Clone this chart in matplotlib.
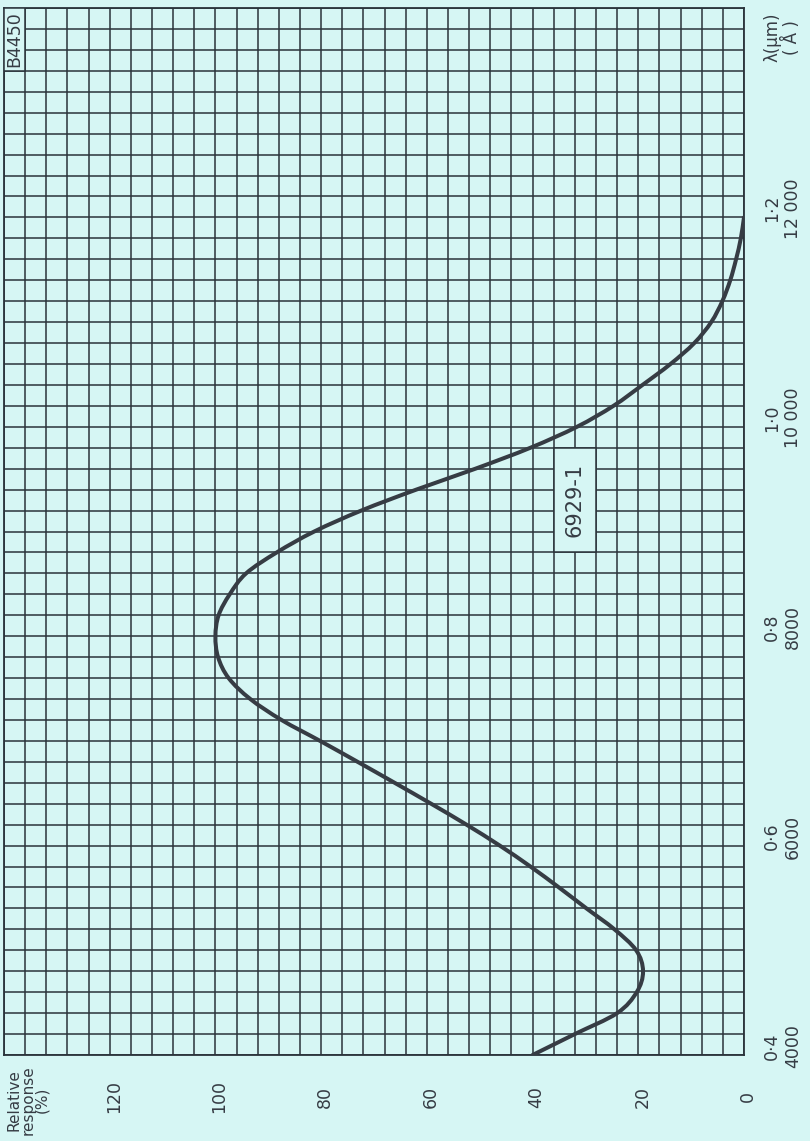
import numpy as np
import matplotlib
matplotlib.use("Agg")
import matplotlib.pyplot as plt
from matplotlib.patches import Rectangle, PathPatch
from matplotlib.path import Path
from matplotlib.transforms import blended_transform_factory, offset_copy

# ---- data ----
wavelength_um = [0.40, 0.42, 0.44, 0.46, 0.48, 0.50, 0.52, 0.54, 0.56, 0.58,
                 0.60, 0.62, 0.64, 0.66, 0.68, 0.70, 0.72, 0.74, 0.76, 0.78,
                 0.80, 0.82, 0.84, 0.86, 0.88, 0.90, 0.92, 0.94, 0.96, 0.98,
                 1.00, 1.02, 1.04, 1.06, 1.08, 1.10, 1.12, 1.14, 1.16, 1.18, 1.20]
response_pct = [40.0, 32.0, 24.0, 20.3, 19.1, 20.4, 24.5, 29.8, 35.0, 40.4,
                46.2, 52.5, 59.2, 66.1, 73.1, 80.2, 87.5, 93.4, 97.5, 99.5,
                100.0, 99.4, 97.3, 94.2, 88.4, 81.3, 72.4, 62.0, 50.8, 40.4,
                31.6, 24.7, 19.2, 13.9, 9.4, 6.2, 4.1, 2.6, 1.5, 0.6, 0.0]

resp_ticks = [0, 20, 40, 60, 80, 100, 120]
wl_ticks = [0.4, 0.6, 0.8, 1.0, 1.2]
wl_tick_labels = ["0·4\n4000", "0·6\n6000", "0·8\n8000", "1·0\n10 000", "1·2\n12 000"]
curve_name = "6929-1"
sheet_code = "B4450"

# ---- style ----
BG = "#d6f6f4"
GRID = "#2a333a"
INK = "#363c44"
W, H = 810, 1141

fig = plt.figure(figsize=(W / 100, H / 100), dpi=100, facecolor=BG)
ax = fig.add_axes([4 / W, 86 / H, 740 / W, 1047 / H], facecolor=BG)

ax.set_xlim(140, 0)
ax.set_ylim(0.40, 1.40)
ax.set_xticks(np.arange(0, 141, 4))
ax.set_yticks(np.round(np.arange(0.40, 1.4001, 0.02), 2))
ax.tick_params(length=0, labelbottom=False, labelleft=False)
ax.grid(True, color=GRID, lw=1.1)
ax.set_axisbelow(True)
for s in ax.spines.values():
    s.set_color(GRID)
    s.set_linewidth(1.3)

# curve: smooth path through the read points (Catmull-Rom drawn as Bezier)
pts = np.column_stack([response_pct, wavelength_um])
ext = np.vstack([2 * pts[0] - pts[1], pts, 2 * pts[-1] - pts[-2]])
verts = [pts[0]]
codes = [Path.MOVETO]
for i in range(1, len(ext) - 2):
    p0, p1, p2, p3 = ext[i - 1], ext[i], ext[i + 1], ext[i + 2]
    verts += [p1 + (p2 - p0) / 6, p2 - (p3 - p1) / 6, p2]
    codes += [Path.CURVE4] * 3
ax.add_patch(PathPatch(Path(verts, codes), transform=ax.transData, fill=False,
                       edgecolor=INK, lw=2.9, capstyle="round", zorder=5))

# response labels (below the frame, rotated)
tb = blended_transform_factory(ax.transData, ax.transAxes)
for v in resp_ticks:
    t = offset_copy(tb, fig=fig, x=4, y=0, units="dots")
    ax.text(v, -0.04, str(v), transform=t, rotation=90, ha="center",
            va="center", fontsize=12.5, color=INK, clip_on=False)
ax.text(140, -0.043, "Relative\nresponse\n(%)",
        transform=offset_copy(tb, fig=fig, x=24, y=0, units="dots"),
        rotation=90, ha="center", va="center", fontsize=11, color=INK,
        linespacing=0.88, clip_on=False)

# wavelength labels (right of the frame, rotated)
tr = blended_transform_factory(ax.transAxes, ax.transData)
for v, lab in zip(wl_ticks, wl_tick_labels):
    t = offset_copy(tr, fig=fig, x=0, y=9, units="dots")
    ax.text(1.052, v, lab, transform=t, rotation=90, ha="center",
            va="center", fontsize=12.5, color=INK, linespacing=1.2, clip_on=False)
ax.text(1.052, 1.372, "λ(µm)\n( Å )", transform=tr, rotation=90, ha="center",
        va="center", fontsize=12, color=INK, linespacing=1.05, clip_on=False)

# sheet code box (top-left corner)
ax.add_patch(Rectangle((136, 1.34), 4, 0.06, facecolor=BG, edgecolor=GRID,
                       lw=1.1, zorder=3))
ax.text(138, 1.37, sheet_code, rotation=90, ha="center", va="center",
        fontsize=12.5, color=INK, zorder=4)

# curve name box
ax.add_patch(Rectangle((28, 0.88), 8, 0.10, facecolor=BG, edgecolor=GRID,
                       lw=1.1, zorder=3))
ax.text(32, 0.93, curve_name, rotation=90, ha="center", va="center",
        fontsize=15, color=INK, zorder=4)

fig.savefig("out.png", dpi=100, facecolor=BG)
